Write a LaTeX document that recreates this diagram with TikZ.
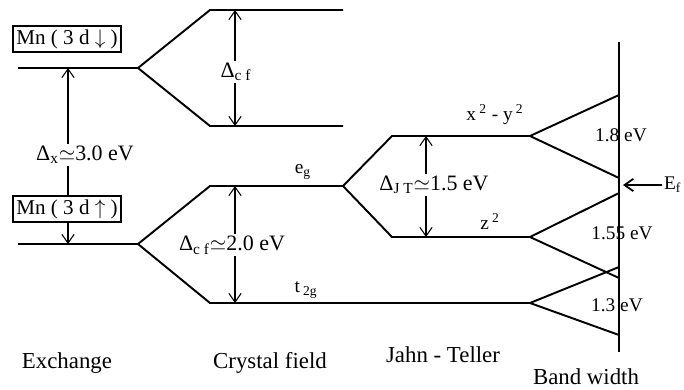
\documentclass[tikz,border=0pt]{standalone}
\usepackage{fontspec}
\setmainfont{Liberation Serif}
\usetikzlibrary{arrows.meta}
\tikzset{
    level/.style={line width=1.1pt},
    gap/.style={line width=0.6pt,{Straight Barb[length=5pt,width=7pt]}-{Straight Barb[length=5pt,width=7pt]}},
    lab/.style={font=\fontsize{11}{13}\selectfont,inner sep=1pt},
    gaplab/.style={font=\fontsize{12.5}{14}\selectfont,inner sep=1pt,fill=white},
    mnbox/.style={font=\fontsize{12}{14}\selectfont,draw,line width=0.8pt,fill=white,inner sep=2pt},
    title/.style={font=\fontsize{13}{15}\selectfont},
}
\begin{document}
\begin{tikzpicture}
    \useasboundingbox (0,0) rectangle (13.68,7.78);
    % exchange
    \coordinate (dn) at (2.76,6.42);
    \coordinate (up) at (2.76,2.90);
    \draw[level] (0.36,6.42) -- (dn);
    \draw[level] (0.36,2.90) -- (up);
    \coordinate (xa) at (1.36,6.42);
    \coordinate (xb) at (1.36,2.90);
    \draw[gap] (xb) -- (xa);
    \node[mnbox] (mndn) at (1.34,7.0) {Mn ( 3 d $\downarrow$ )};
    \node[mnbox] (mnup) at (1.34,3.6) {Mn ( 3 d $\uparrow$ )};
    \node[gaplab] (dx) at (1.70,4.68) {Δ\textsubscript{x}$\simeq$3.0 eV};
    % crystal field
    \coordinate (cfa) at (6.86,7.58);
    \coordinate (cfb) at (6.86,5.26);
    \coordinate (eg) at (6.86,4.06);
    \coordinate (t2g) at (10.6,1.72);
    \draw[level] (dn) -- (4.2,7.58) -- (cfa);
    \draw[level] (dn) -- (4.2,5.26) -- (cfb);
    \draw[level] (up) -- (4.2,4.06) -- (eg);
    \draw[level] (up) -- (4.2,1.72) -- (t2g);
    \draw[gap] (4.7,7.58) -- (4.7,5.26);
    \draw[gap] (4.7,4.06) -- (4.7,1.72);
    \node[gaplab] (cf1) at (4.72,6.34) {Δ\textsubscript{c f}};
    \node[gaplab] (cf2) at (4.64,2.88) {Δ\textsubscript{c f}$\simeq$2.0 eV};
    \node[lab] (eglab) at (6.06,4.34) {e\textsubscript{g}};
    \node[lab] (t2glab) at (6.12,1.98) {t\,\textsubscript{2g}};
    % jahn-teller
    \coordinate (xy) at (10.6,5.06);
    \coordinate (zz) at (10.6,3.04);
    \draw[level] (eg) -- (7.84,5.06) -- (xy);
    \draw[level] (eg) -- (7.84,3.04) -- (zz);
    \draw[gap] (8.52,5.06) -- (8.52,3.04);
    \node[gaplab] (jt) at (8.68,4.08) {Δ\textsubscript{J T}$\simeq$1.5 eV};
    \node[lab] (xylab) at (9.9,5.48) {x\,\textsuperscript{2} - y\,\textsuperscript{2}};
    \node[lab] (zzlab) at (9.8,3.34) {z\,\textsuperscript{2}};
    % band width
    \draw[line width=0.6pt] (12.38,6.94) -- (12.38,0.74);
    \draw[level] (12.38,5.88) -- (xy) -- (12.38,4.22);
    \draw[level] (12.38,3.92) -- (zz) -- (12.38,2.22);
    \draw[level] (12.38,2.44) -- (t2g) -- (12.38,1.08);
    \node[lab] at (12.42,5.08) {1.8 eV};
    \node[lab] at (12.44,3.12) {1.55 eV};
    \node[lab] at (12.34,1.68) {1.3 eV};
    \node[lab,anchor=west] (ef) at (13.24,4.08) {E\textsubscript{f}};
    \draw[line width=1pt,-{Straight Barb[length=5pt,width=7pt]}] (ef.west) -- (12.46,4.08);
    % titles
    \node[title] at (1.34,0.52) {Exchange};
    \node[title] at (5.4,0.52) {Crystal field};
    \node[title] at (8.86,0.68) {Jahn - Teller};
    \node[title] at (11.72,0.25) {Band width};
\end{tikzpicture}
\end{document}
